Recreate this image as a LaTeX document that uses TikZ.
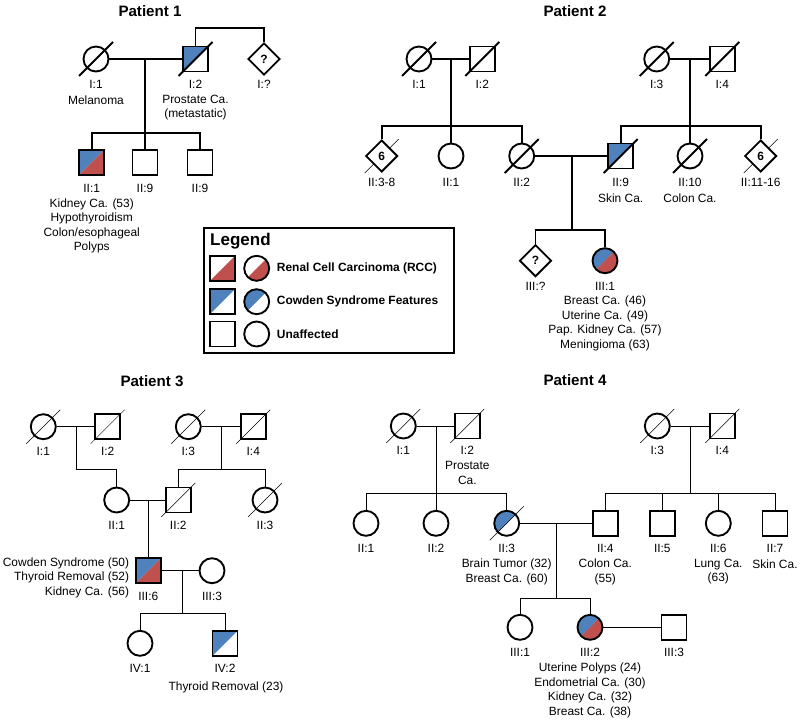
\documentclass[tikz,border=0pt]{standalone}
\usepackage{fontspec}
\setmainfont{Liberation Sans}
\usetikzlibrary{shapes.geometric}
\usetikzlibrary{backgrounds}
\definecolor{cblue}{RGB}{79,129,189}
\definecolor{cred}{RGB}{192,80,77}
\tikzset{ped/.style = {draw, line width = 1.6pt, inner sep = 0, minimum size = 7.5mm}}
\tikzset{male/.style = {ped, rectangle}}
\tikzset{female/.style = {ped, circle}}
\tikzset{unsexed/.style = {ped, diamond, fill = white, minimum size = 9.6mm, font = \bfseries\fontsize{10.2}{12}\selectfont}}
\tikzset{cowden/.style = {path picture = {\fill [cblue] (path picture bounding box.south west) -- (path picture bounding box.north west) -- (path picture bounding box.north east) -- cycle;}}}
\tikzset{rcc/.style = {path picture = {\fill [cred] (path picture bounding box.south west) -- (path picture bounding box.south east) -- (path picture bounding box.north east) -- cycle;}}}
\tikzset{cowdenrcc/.style = {path picture = {\fill [cblue] (path picture bounding box.south west) -- (path picture bounding box.north west) -- (path picture bounding box.north east) -- cycle;
                                             \fill [cred] (path picture bounding box.south west) -- (path picture bounding box.south east) -- (path picture bounding box.north east) -- cycle;}}}
\tikzset{txt/.style = {inner sep = 0, align = center, font = \fontsize{10.2}{12.4}\selectfont}}
\tikzset{ptitle/.style = {inner sep = 0, font = \bfseries\fontsize{12.9}{15}\selectfont}}
\tikzset{lgtxt/.style = {inner sep = 0, anchor = west, font = \bfseries\fontsize{10.2}{12.4}\selectfont}}

\begin{document}
\begin{tikzpicture}[x = 0.3mm, y = -0.3mm, line width = 1.6pt]
    \useasboundingbox (0, 0) rectangle (800, 722);

    % Patient 1
    \node [ptitle] (t1) at (150, 11) {Patient 1};
    \node [female] (p1i1) at (96, 59) {};
    \node [male, cowden] (p1i2) at (195.5, 59) {};
    \node [unsexed] (p1iq) at (264, 59) {?};
    \node [male, cowdenrcc] (p1ii1) at (91.7, 162.5) {};
    \node [male] (p1ii9a) at (145, 162.5) {};
    \node [male] (p1ii9b) at (200, 162.5) {};
    \coordinate (p1m) at (145, 59);
    \coordinate (p1s) at (145, 133);
    \coordinate (p1up) at (230, 28);
    \draw (p1i1) -- (p1i2);
    \draw (p1m) -- (p1s);
    \draw (p1ii1.north) |- (p1s) -| (p1ii9b.north);
    \draw (p1s) -- (p1ii9a.north);
    \draw (p1i2.north) |- (p1up) -| (p1iq.north);
    \foreach \n in {p1i1, p1i2}
      \draw (\n.center) ++(-17, 17) -- ++(34, -34);
    \node [txt] (p1l1) at (96, 84) {I:1};
    \node [txt] (p1l2) at (195.5, 84) {I:2};
    \node [txt] (p1lq) at (264, 84) {I:?};
    \node [txt] (p1d1) at (96, 100) {Melanoma};
    \node [txt] (p1d2) at (195.5, 107.5) {Prostate Ca.\\(metastatic)};
    \node [txt] (p1l3) at (91.7, 188) {II:1};
    \node [txt] (p1l4) at (145, 188) {II:9};
    \node [txt] (p1l5) at (200, 188) {II:9};
    \node [txt] (p1d3) at (91.7, 226) {Kidney Ca. (53)\\Hypothyroidism\\Colon/esophageal\\Polyps};

    % Patient 2
    \node [ptitle] (t2) at (575, 11) {Patient 2};
    \node [female] (p2i1) at (419, 59) {};
    \node [male] (p2i2) at (482.3, 59) {};
    \node [female] (p2i3) at (656.7, 59) {};
    \node [male] (p2i4) at (722.3, 59) {};
    \node [unsexed] (p2ii38) at (381.7, 156) {6};
    \node [female] (p2ii1) at (451, 156) {};
    \node [female] (p2ii2) at (521.7, 156) {};
    \node [male, cowden] (p2ii9) at (620.7, 156) {};
    \node [female] (p2ii10) at (690, 156) {};
    \node [unsexed] (p2ii1116) at (760.7, 156) {6};
    \node [unsexed] (p2iiiq) at (535.5, 260.7) {?};
    \node [female, cowdenrcc] (p2iii1) at (605, 260.7) {};
    \coordinate (p2m1) at (451, 59);
    \coordinate (p2s1) at (451, 126);
    \coordinate (p2m2) at (690, 59);
    \coordinate (p2s2) at (690, 126);
    \coordinate (p2m3) at (571.7, 156);
    \coordinate (p2s3) at (571.7, 230);
    \draw (p2i1) -- (p2i2);
    \draw (p2i3) -- (p2i4);
    \draw (p2m1) -- (p2s1);
    \draw (p2m2) -- (p2s2);
    \draw (p2ii38.north) |- (p2s1) -| (p2ii2.north);
    \draw (p2s1) -- (p2ii1.north);
    \draw (p2ii9.north) |- (p2s2) -| (p2ii1116.north);
    \draw (p2s2) -- (p2ii10.north);
    \draw (p2ii2) -- (p2ii9);
    \draw (p2m3) -- (p2s3);
    \draw (p2iiiq.north) |- (p2s3) -| (p2iii1.north);
    \foreach \n in {p2i1, p2i2, p2i3, p2i4, p2ii2, p2ii9, p2ii10}
      \draw (\n.center) ++(-17, 17) -- ++(34, -34);
    % the diamonds hide their own slash
    \begin{pgfonlayer}{background}
      \foreach \n in {p2ii38, p2ii1116}
        \draw (\n.center) ++(-17, 17) -- ++(34, -34);
    \end{pgfonlayer}
    \node [txt] (p2l1) at (419, 84) {I:1};
    \node [txt] (p2l2) at (482.3, 84) {I:2};
    \node [txt] (p2l3) at (656.7, 84) {I:3};
    \node [txt] (p2l4) at (722.3, 84) {I:4};
    \node [txt] (p2l5) at (381.7, 182) {II:3-8};
    \node [txt] (p2l6) at (451, 182) {II:1};
    \node [txt] (p2l7) at (521.7, 182) {II:2};
    \node [txt] (p2l8) at (620.7, 182) {II:9};
    \node [txt] (p2l9) at (690, 182) {II:10};
    \node [txt] (p2l10) at (760.7, 182) {II:11-16};
    \node [txt] (p2d1) at (620.7, 198) {Skin Ca.};
    \node [txt] (p2d2) at (690, 198) {Colon Ca.};
    \node [txt] (p2l11) at (535.5, 286.7) {III:?};
    \node [txt] (p2l12) at (605, 286.7) {III:1};
    \node [txt] (p2d3) at (605, 323.5) {Breast Ca. (46)\\Uterine Ca. (49)\\Pap. Kidney Ca. (57)\\Meningioma (63)};

    % Legend
    \node [draw, line width = 1.8pt, inner sep = 0, minimum width = 75mm, minimum height = 37.5mm] (legend) at (329, 290.5) {};
    \node [inner sep = 0, anchor = west, font = \bfseries\fontsize{14.5}{17}\selectfont] (lgtitle) at (210, 241) {Legend};
    \node [male, rcc] (lgsq1) at (222.5, 268.3) {};
    \node [female, rcc] (lgci1) at (256.7, 268.3) {};
    \node [lgtxt] (lgt1) at (276.7, 268.3) {Renal Cell Carcinoma (RCC)};
    \node [male, cowden] (lgsq2) at (222.5, 301.7) {};
    \node [female, cowden] (lgci2) at (256.7, 301.7) {};
    \node [lgtxt] (lgt2) at (276.7, 301.7) {Cowden Syndrome Features};
    \node [male] (lgsq3) at (222.5, 334) {};
    \node [female] (lgci3) at (256.7, 334) {};
    \node [lgtxt] (lgt3) at (276.7, 334) {Unaffected};

    % Patient 3
    \node [ptitle] (t3) at (152, 381) {Patient 3};
    \node [female] (p3i1) at (43.3, 426.7) {};
    \node [male] (p3i2) at (107.7, 426.7) {};
    \node [female] (p3i3) at (188.3, 426.7) {};
    \node [male] (p3i4) at (253.3, 426.7) {};
    \node [female] (p3ii1) at (116.7, 500) {};
    \node [male] (p3ii2) at (178.3, 500) {};
    \node [female] (p3ii3) at (265, 500) {};
    \node [male, cowdenrcc] (p3iii6) at (148.3, 570.7) {};
    \node [female] (p3iii3) at (212, 570.7) {};
    \node [female] (p3iv1) at (140, 643.3) {};
    \node [male, cowden] (p3iv2) at (225, 643.3) {};
    \coordinate (p3m1) at (76.7, 426.7);
    \coordinate (p3k1) at (76.7, 469.3);
    \coordinate (p3m2) at (221, 426.7);
    \coordinate (p3s2) at (221, 469.3);
    \coordinate (p3m3) at (148.3, 500);
    \coordinate (p3m4) at (182.3, 570.7);
    \coordinate (p3s4) at (182.3, 613.3);
    \draw (p3i1) -- (p3i2);
    \draw (p3i3) -- (p3i4);
    \draw (p3m1) -- (p3k1) -| (p3ii1.north);
    \draw (p3m2) -- (p3s2);
    \draw (p3ii2.north) |- (p3s2) -| (p3ii3.north);
    \draw (p3ii1) -- (p3ii2);
    \draw (p3m3) -- (p3iii6.north);
    \draw (p3iii6) -- (p3iii3);
    \draw (p3m4) -- (p3s4);
    \draw (p3iv1.north) |- (p3s4) -| (p3iv2.north);
    \foreach \n in {p3i1, p3i2, p3i3, p3i4, p3ii2, p3ii3}
      \draw (\n.center) ++(-17, 17) -- ++(34, -34);
    \node [txt] (p3l1) at (43.3, 451.7) {I:1};
    \node [txt] (p3l2) at (107.7, 451.7) {I:2};
    \node [txt] (p3l3) at (188.3, 451.7) {I:3};
    \node [txt] (p3l4) at (253.3, 451.7) {I:4};
    \node [txt] (p3l5) at (116.7, 525) {II:1};
    \node [txt] (p3l6) at (178.3, 525) {II:2};
    \node [txt] (p3l7) at (265, 525) {II:3};
    \node [txt] (p3l8) at (148.3, 596) {III:6};
    \node [txt] (p3l9) at (212, 596) {III:3};
    \node [txt, align = right, anchor = east] (p3d1) at (129.3, 577.8) {Cowden Syndrome (50)\\Thyroid Removal (52)\\Kidney Ca. (56)};
    \node [txt] (p3l10) at (140, 668.3) {IV:1};
    \node [txt] (p3l11) at (225, 668.3) {IV:2};
    \node [txt] (p3d2) at (226, 687.3) {Thyroid Removal (23)};

    % Patient 4
    \node [ptitle] (t4) at (575, 380) {Patient 4};
    \node [female] (p4i1) at (403.3, 426) {};
    \node [male] (p4i2) at (467.3, 426) {};
    \node [female] (p4i3) at (657.3, 426) {};
    \node [male] (p4i4) at (722.3, 426) {};
    \node [female] (p4ii1) at (366, 523.3) {};
    \node [female] (p4ii2) at (436, 523.3) {};
    \node [female, cowden] (p4ii3) at (506.7, 523.3) {};
    \node [male] (p4ii4) at (605.3, 523.3) {};
    \node [male] (p4ii5) at (662.3, 523.3) {};
    \node [female] (p4ii6) at (718.3, 523.3) {};
    \node [male] (p4ii7) at (775, 523.3) {};
    \node [female] (p4iii1) at (520, 627.3) {};
    \node [female, cowdenrcc] (p4iii2) at (590, 627.3) {};
    \node [male] (p4iii3) at (674, 627.3) {};
    \coordinate (p4m1) at (436, 426);
    \coordinate (p4s1) at (436, 493.3);
    \coordinate (p4m2) at (690, 426);
    \coordinate (p4s2) at (690, 493.3);
    \coordinate (p4m3) at (556.7, 523.3);
    \coordinate (p4s3) at (556.7, 598.3);
    \draw (p4i1) -- (p4i2);
    \draw (p4i3) -- (p4i4);
    \draw (p4m1) -- (p4s1);
    \draw (p4m2) -- (p4s2);
    \draw (p4ii1.north) |- (p4s1) -| (p4ii3.north);
    \draw (p4s1) -- (p4ii2.north);
    \draw (p4ii4.north) |- (p4s2) -| (p4ii7.north);
    \draw (p4ii5.north) -- (p4ii5.north |- p4s2);
    \draw (p4ii6.north) -- (p4ii6.north |- p4s2);
    \draw (p4ii3) -- (p4ii4);
    \draw (p4m3) -- (p4s3);
    \draw (p4iii1.north) |- (p4s3) -| (p4iii2.north);
    \draw (p4iii2) -- (p4iii3);
    \foreach \n in {p4i1, p4i2, p4i3, p4i4, p4ii3}
      \draw (\n.center) ++(-17, 17) -- ++(34, -34);
    \node [txt] (p4l1) at (403.3, 450.7) {I:1};
    \node [txt] (p4l2) at (467.3, 450.7) {I:2};
    \node [txt] (p4l3) at (657.3, 450.7) {I:3};
    \node [txt] (p4l4) at (722.3, 450.7) {I:4};
    \node [txt] (p4d1) at (467.3, 473) {Prostate\\Ca.};
    \node [txt] (p4l5) at (366, 548.3) {II:1};
    \node [txt] (p4l6) at (436, 548.3) {II:2};
    \node [txt] (p4l7) at (506.7, 548.3) {II:3};
    \node [txt] (p4l8) at (605.3, 548.3) {II:4};
    \node [txt] (p4l9) at (662.3, 548.3) {II:5};
    \node [txt] (p4l10) at (718.3, 548.3) {II:6};
    \node [txt] (p4l11) at (775, 548.3) {II:7};
    \node [txt] (p4d2) at (506.7, 571.7) {Brain Tumor (32)\\Breast Ca. (60)};
    \node [txt] (p4d3) at (605.3, 571.7) {Colon Ca.\\(55)};
    \node [txt] (p4d4) at (718.3, 571.7) {Lung Ca.\\(63)};
    \node [txt] (p4d5) at (775, 564) {Skin Ca.};
    \node [txt] (p4l12) at (520, 652.7) {III:1};
    \node [txt] (p4l13) at (590, 652.7) {III:2};
    \node [txt] (p4l14) at (674, 652.7) {III:3};
    \node [txt] (p4d6) at (590, 690.3) {Uterine Polyps (24)\\Endometrial Ca. (30)\\Kidney Ca. (32)\\Breast Ca. (38)};
  \end{tikzpicture}
\end{document}
